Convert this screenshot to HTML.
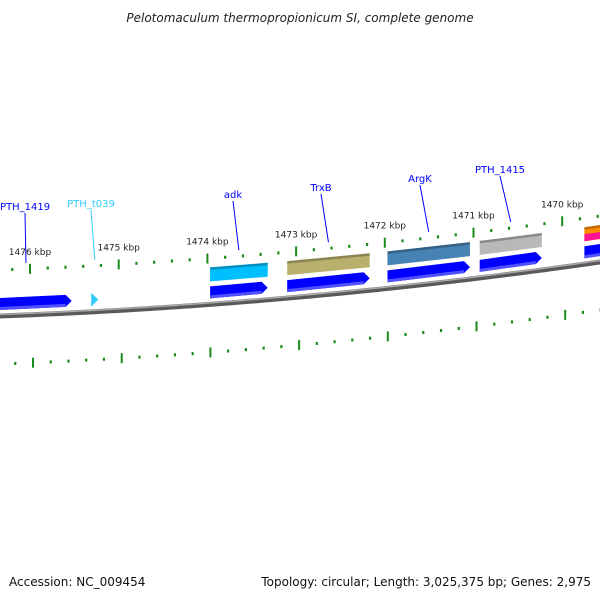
<!DOCTYPE html>
<html><head><meta charset="utf-8"><style>
body{margin:0;background:#fff}
svg{display:block;font-family:"DejaVu Sans","Liberation Sans",sans-serif}
</style></head><body>
<svg id="map" width="600" height="600" viewBox="0 0 600 600">
<text x="300" y="22" text-anchor="middle" font-size="12" font-style="italic" fill="#222">Pelotomaculum thermopropionicum SI, complete genome</text>
<text x="9" y="586" font-size="12" fill="#111">Accession: NC_009454</text>
<text x="591" y="586" text-anchor="end" font-size="12" fill="#111">Topology: circular; Length: 3,025,375 bp; Genes: 2,975</text>
<g id="layer"></g>
</svg>
<script>
const geneNames=["PTH_1419","PTH_t039","adk","TrxB","ArgK","PTH_1415","right-gene"];
const geneStart=[1476.34,1475.31,1473.97,1473.10,1471.97,1470.93,1469.75];
const geneEnd=[1475.53,1475.23,1473.32,1472.17,1471.04,1470.23,1469.5];
const geneColor=["#0000ff","#33ccff","#00bfff","#b8b06c","#4682b4","#b8b8b8","#ff8c00"];
const hasBar=[false,false,true,true,true,true,true];
const labelColor=["#0000ff","#33ccff","#0000ff","#0000ff","#0000ff","#0000ff",null];
const labelPos=[[25,210],[91,207],[233,198],[321,191],[420,182],[500,173],null];
const tickKbp=[1476,1475,1474,1473,1472,1471,1470];

const NS="http://www.w3.org/2000/svg";
const layer=document.getElementById('layer');
function X(k){return 30+(1476-k)*88.7;}
function Yb(x){return 316-0.0367*x-0.0000889*x*x;}
function mk(tag,attrs){const e=document.createElementNS(NS,tag);for(const k in attrs)e.setAttribute(k,attrs[k]);layer.appendChild(e);return e;}

let d="";for(let x=-5;x<=605;x+=5){d+=(x===-5?"M":"L")+x+","+Yb(x).toFixed(2);}
let bb=mk('path',{d:d,stroke:"#5a5a5a",'stroke-width':5,fill:"none"});


let bb2=mk('path',{d:d,stroke:"#aaa",'stroke-width':1.5,fill:"none",transform:"translate(0,-1.5)"});



for(let i=0;i<=40;i++){
  const k=1476.4-i*0.2;const x=X(k);
  const major=Math.abs(k-Math.round(k))<0.01;
  [[46,0],[-48,3]].forEach(([off,dx])=>{
    const xx=x+dx;const y=Yb(xx)-off;
    const t=mk('line',{x1:xx,y1:major?y-5:y-1.5,x2:xx,y2:major?y+5:y+1.5,stroke:"#1a8a1a",'stroke-width':major?2:2.2});
    
    
  });
}
tickKbp.forEach(k=>{
  const x=X(k);
  const t=mk('text',{x:x,y:Yb(x)-60,'text-anchor':'middle','font-size':9,fill:"#222"});
  t.textContent=k+" kbp";
  
  
});

geneNames.forEach((n,i)=>{
  const x1=X(geneStart[i]),x2=Math.min(X(geneEnd[i]),605);
  const y1=Yb(x1),y2=Yb(x2);
  const off=12,h=6;
  const tip=(i===6)?0:6;
  let pts;
  if(i===1){const xm=x1,xe=x2;pts=[[xm,Yb(xm)-off-h-1],[xe,Yb(xe)-off],[xm,Yb(xm)-off+h+1]];}
  else pts=[[x1,y1-off-h],[x2-tip,y2-off-h],[x2,y2-off],[x2-tip,y2-off+h],[x1,y1-off+h]];
  const p=mk('polygon',{points:pts.map(q=>q.map(v=>v.toFixed(1)).join(",")).join(" "),fill:i===1?"#33ccff":"#0000ff"});
  
  
  if(i!==1){
    const s=mk('polygon',{points:[[x1,y1-off+h-3],[x2-tip,y2-off+h-3],[x2-tip,y2-off+h],[x1,y1-off+h]].map(q=>q.join(",")).join(" "),fill:"#5050ff"});
    
    
  }
  if(hasBar[i]){
    const bo=30,bh=7;
    const b=mk('polygon',{points:[[x1,y1-bo-bh],[x2,y2-bo-bh],[x2,y2-bo+bh],[x1,y1-bo+bh]].map(q=>q.join(",")).join(" "),fill:geneColor[i]});
    
    
    const bt=mk('polygon',{points:[[x1,y1-bo-bh],[x2,y2-bo-bh],[x2,y2-bo-bh+2.5],[x1,y1-bo-bh+2.5]].map(q=>q.join(",")).join(" "),fill:"#000",'fill-opacity':0.25});
    
    
    if(i===6){
      const pk=mk('polygon',{points:[[x1,y1-bo],[x2,y2-bo],[x2,y2-bo+7],[x1,y1-bo+7]].map(q=>q.join(",")).join(" "),fill:"#ff1493"});
      
      
    }
  }
  if(labelPos[i]){
    const [lx,ly]=labelPos[i];
    const mx=(i===0)?26:(x1+x2)/2;
    const l=mk('line',{x1:lx,y1:ly+3,x2:mx,y2:Yb(mx)-52,stroke:labelColor[i],'stroke-width':1});
    
    
    const t=mk('text',{x:lx,y:ly,'text-anchor':'middle','font-size':10,fill:labelColor[i]});
    t.textContent=n;
    
    
  }
});
</script>
</body></html>
